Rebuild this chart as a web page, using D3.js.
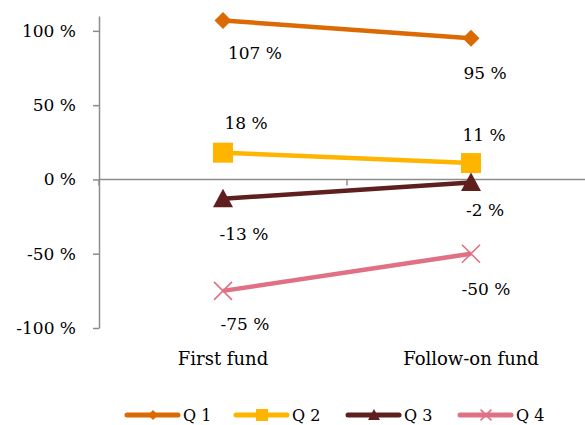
<!DOCTYPE html>
<html>
<head>
<meta charset="utf-8">
<script src="https://cdn.jsdelivr.net/npm/d3@7"></script>
<style>
  html, body { margin: 0; padding: 0; background: #fff; }
  svg { display: block; font-family: "DejaVu Serif", Georgia, serif; }
</style>
</head>
<body>
<svg id="chart" width="585" height="425"></svg>
<script>
// ---- data ----
const categories = ["First fund", "Follow-on fund"];
const seriesNames = ["Q 1", "Q 2", "Q 3", "Q 4"];
const q1 = [107, 95];
const q2 = [18, 11];
const q3 = [-13, -2];
const q4 = [-75, -50];
const yTicks = [-100, -50, 0, 50, 100];

// ---- styles ----
const colors = ["#DB6904", "#FFB400", "#5E1F1E", "#E07185"];
const symbols = ["diamond", "square", "triangle", "x"];
// label offsets (px) from point, per series per category
const labelOffsets = [
  [[32, 33], [14, 35]],
  [[23, -30], [13, -28]],
  [[21, 35], [14, 28]],
  [[22, 33], [15, 35]]
];

const seriesValues = [q1, q2, q3, q4];
const svg = d3.select("#chart");

const y = d3.scaleLinear().domain([-100, 110]).range([328, 16]);
const x = d3.scaleBand().domain(categories).range([99, 595]);
const cx = c => x(c) + x.bandwidth() / 2;

const axisColor = "#8c8c8c";
const fontSize = 17;
const textColor = "#000";

// Y axis
const yAxis = d3.axisLeft(y).tickValues(yTicks).tickSize(6).tickSizeOuter(0)
  .tickFormat(d => d + " %");
const gy = svg.append("g").attr("transform", "translate(99,0)").call(yAxis);
gy.select(".domain").attr("stroke", axisColor).attr("stroke-width", 1.5);
gy.selectAll(".tick line").attr("stroke", axisColor).attr("stroke-width", 1.5);
gy.selectAll(".tick text").attr("font-size", fontSize).attr("fill", textColor)
  .attr("font-family", "DejaVu Serif").attr("x", -23);

// X axis line at zero
const g0 = svg.append("g");
g0.append("line").attr("x1", 99).attr("x2", 585).attr("y1", y(0)).attr("y2", y(0))
  .attr("stroke", axisColor).attr("stroke-width", 1.5);
const bounds = categories.map(c => x(c)).concat([x(categories[categories.length - 1]) + x.bandwidth()]);
g0.selectAll("line.tk").data(bounds).enter().append("line").attr("class", "tk")
  .attr("x1", d => d).attr("x2", d => d).attr("y1", y(0)).attr("y2", y(0) + 6)
  .attr("stroke", axisColor).attr("stroke-width", 1.5);

// Category labels
const xAxis = d3.axisBottom(x).tickSize(0).tickPadding(0);
const gx = svg.append("g").attr("transform", "translate(0,352)").call(xAxis);
gx.select(".domain").remove();
gx.selectAll(".tick text").attr("font-size", 18).attr("fill", textColor)
  .attr("font-family", "DejaVu Serif");

function symbolPath(type, size) {
  const s = size / 2;
  if (type === "diamond") return `M0,${-s}L${s},0L0,${s}L${-s},0Z`;
  if (type === "square") return `M${-s},${-s}H${s}V${s}H${-s}Z`;
  if (type === "triangle") return `M0,${-s}L${s},${s * 0.85}L${-s},${s * 0.85}Z`;
  return `M${-s},${-s}L${s},${s}M${s},${-s}L${-s},${s}`;
}
const markerSize = { diamond: 17, square: 20, triangle: 20, x: 18 };

function drawMarker(g, type, color, px, py, scale) {
  const sz = markerSize[type] * (scale || 1);
  const p = g.append("path").attr("d", symbolPath(type, sz))
    .attr("transform", `translate(${px},${py})`);
  if (type === "x") p.attr("fill", "none").attr("stroke", color).attr("stroke-width", 1.6);
  else p.attr("fill", color);
}

const line = d3.line().x((d, i) => cx(categories[i])).y(d => y(d));

seriesValues.forEach((vals, si) => {
  const g = svg.append("g");
  g.append("path").datum(vals).attr("d", line).attr("fill", "none")
    .attr("stroke", colors[si]).attr("stroke-width", 4.5);
  vals.forEach((v, i) => drawMarker(g, symbols[si], colors[si], cx(categories[i]), y(v)));
});

// Data labels
seriesValues.forEach((vals, si) => {
  vals.forEach((v, i) => {
    const [dx, dy] = labelOffsets[si][i];
    svg.append("text").attr("x", cx(categories[i]) + dx).attr("y", y(v) + dy)
      .attr("text-anchor", "middle").attr("dominant-baseline", "central")
      .attr("font-size", fontSize).attr("fill", textColor)
      .text(v + " %");
  });
});

// Legend
const legendX = [125, 234, 346, 458];
const legendY = 415;
seriesNames.forEach((name, si) => {
  const g = svg.append("g");
  const lx = legendX[si];
  g.append("line").attr("x1", lx + 2).attr("x2", lx + 53).attr("y1", legendY).attr("y2", legendY)
    .attr("stroke", colors[si]).attr("stroke-width", 5).attr("stroke-linecap", "round");
  drawMarker(g, symbols[si], colors[si], lx + 28, legendY, 0.6);
  g.append("text").attr("x", lx + 58).attr("y", legendY).attr("dominant-baseline", "central")
    .attr("font-size", 16).attr("fill", textColor).text(name);
});
</script>
</body>
</html>
